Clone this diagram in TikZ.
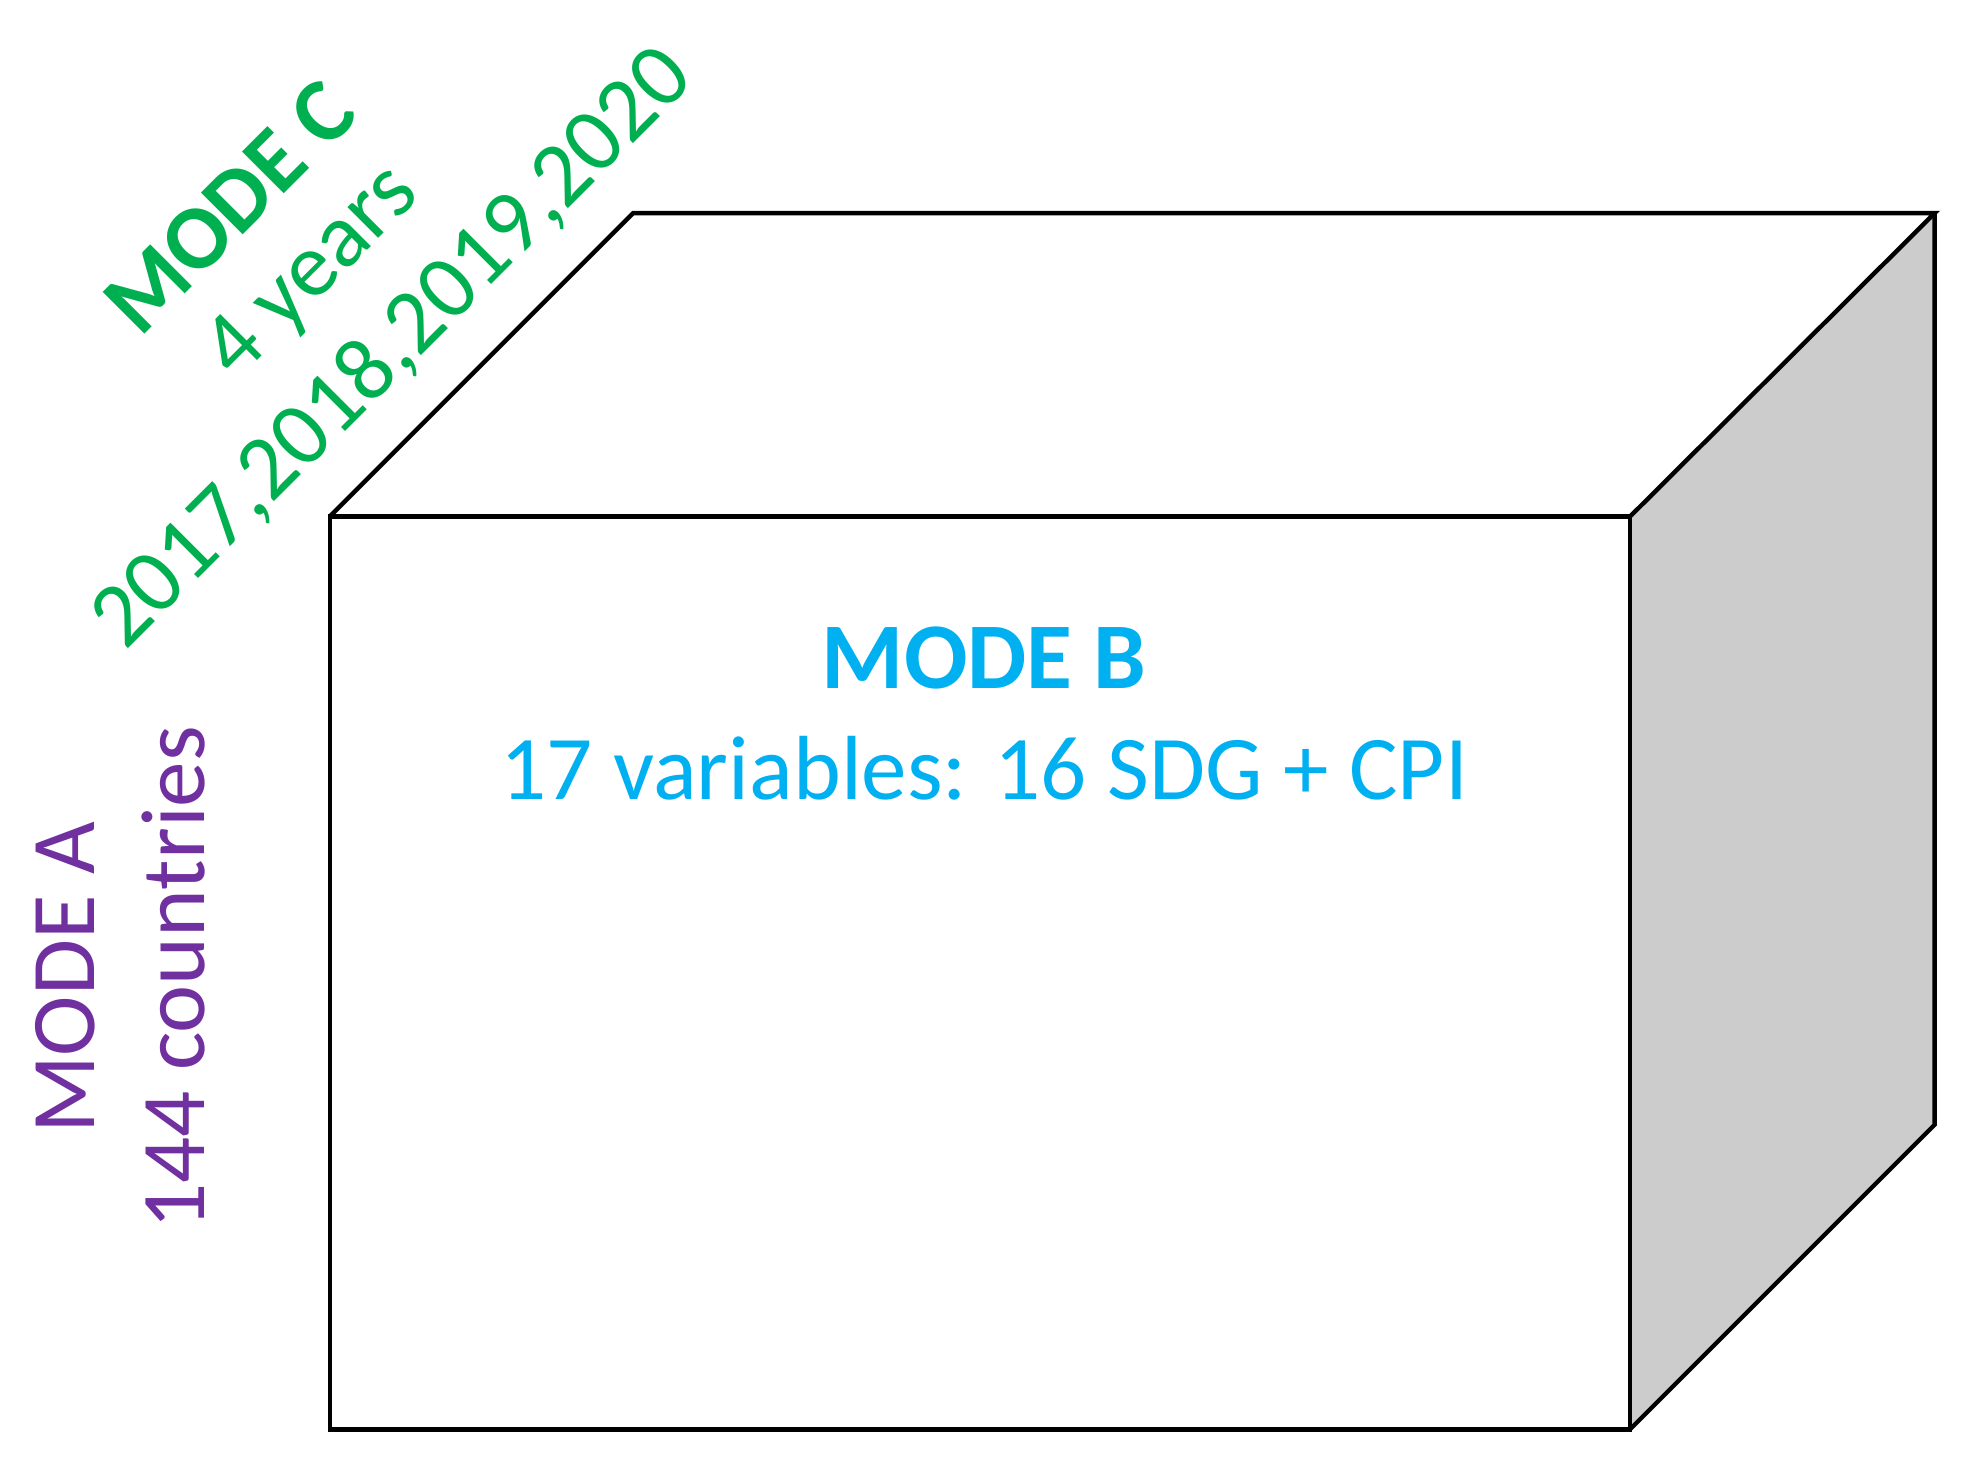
\documentclass[tikz,border=0pt]{standalone}
\usepackage{fontspec}
\setmainfont{Carlito}
\definecolor{mb}{RGB}{0,176,240}
\definecolor{mc}{RGB}{0,176,80}
\definecolor{ma}{RGB}{112,48,160}
\begin{document}
\begin{tikzpicture}[x=0.03cm,y=-0.03cm,
  edge/.style={draw=black,line width=3pt,line join=miter},
  lab/.style={inner sep=0pt,font=\fontsize{62}{70}\selectfont}]
\useasboundingbox (0,0) rectangle (1568,1170);
\coordinate (A) at (263,412); \coordinate (B) at (1300,412);
\coordinate (C) at (1300,1140); \coordinate (D) at (263,1140);
\coordinate (E) at (505,170); \coordinate (F) at (1543,170);
\coordinate (G) at (1543,897);
\fill[fill=white] (A)--(E)--(F)--(B)--cycle;
\fill[fill=black!20] (B)--(F)--(G)--(C)--cycle;
\draw[edge] (A)--(B)--(C)--(D)--cycle;
\draw[edge] (A)--(E)--(F)--(B);
\draw[edge] (F)--(G)--(C);
\node[lab,text=mb,font=\fontsize{64}{70}\selectfont\bfseries] (mb) at (785,525) {MODE B};
\node[lab,text=mb] (mb2) at (785,613) {17 variables: 16 SDG + CPI};
\node[lab,text=ma,rotate=90] (ma) at (52,780) {MODE A};
\node[lab,text=ma,rotate=90] (ma2) at (138,780) {144 countries};
\node[lab,text=mc,rotate=45,font=\fontsize{62}{70}\selectfont\bfseries] (mc) at (183,165) {MODE C};
\node[lab,text=mc,rotate=45] (mc2) at (250,218) {4 years};
\node[lab,text=mc,rotate=45] (mc3) at (313,278) {2017,2018,2019,2020};
\end{tikzpicture}
\end{document}
